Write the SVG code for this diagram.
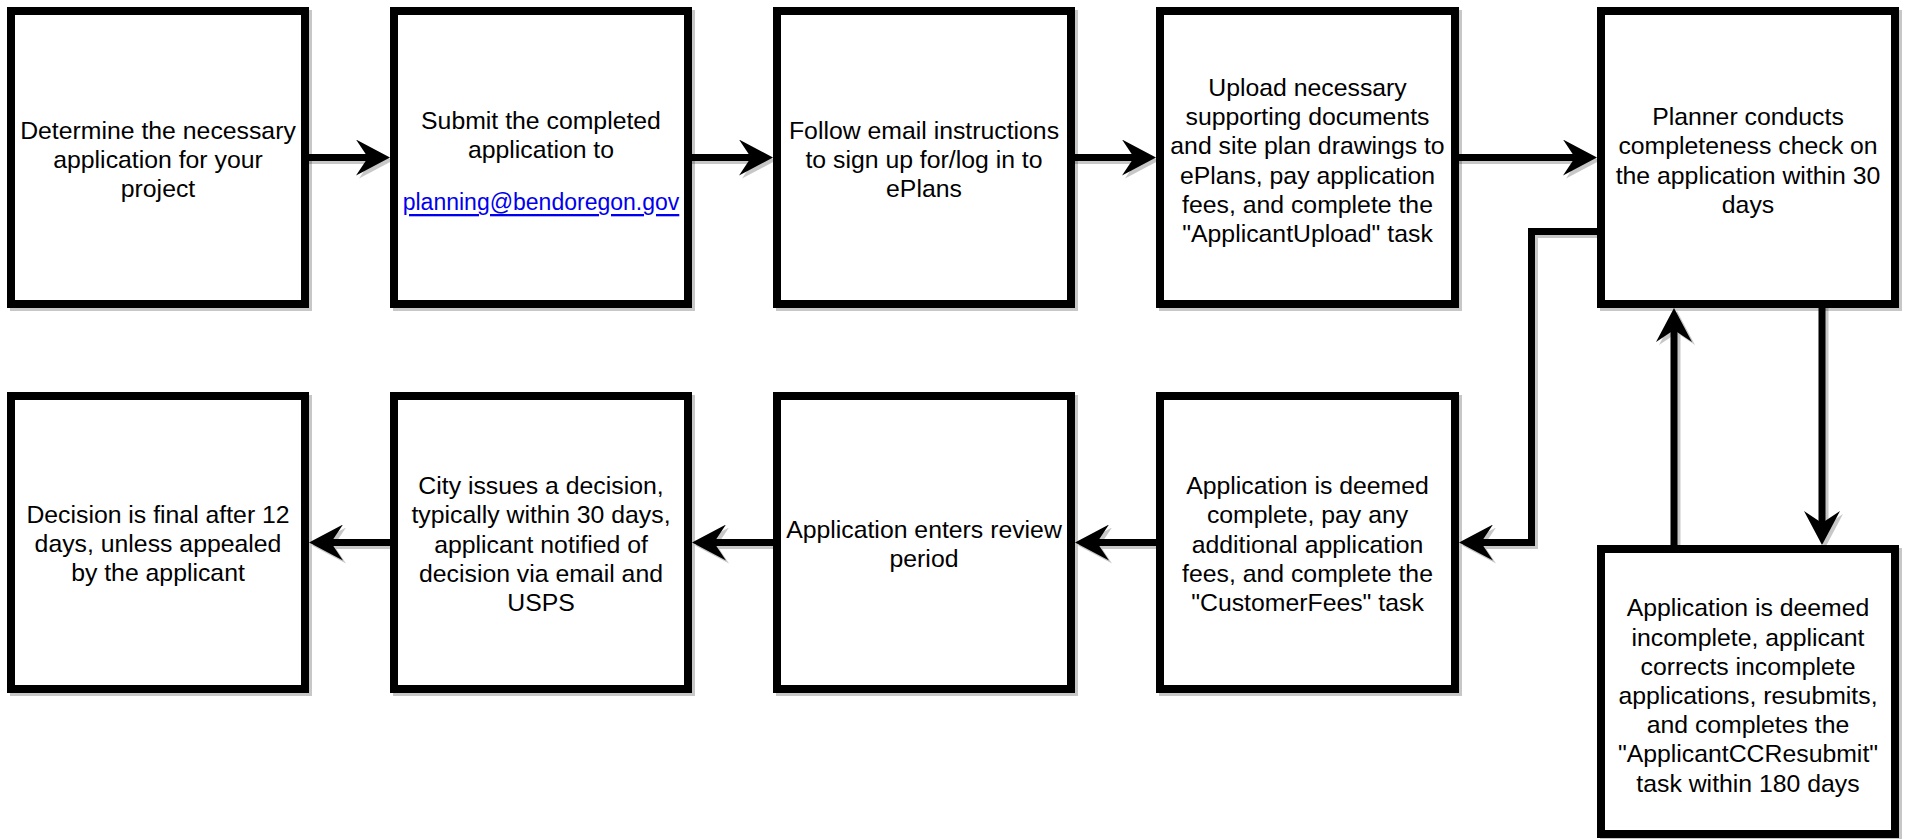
<svg xmlns="http://www.w3.org/2000/svg" width="1907" height="839" viewBox="0 0 1907 839">
<style>
.box{fill:#fff;stroke:#000;stroke-width:8;filter:url(#sh)}
.t{font-family:"Liberation Sans",Arial,Helvetica,sans-serif;font-size:24.8px;fill:#000;text-anchor:middle;dominant-baseline:central}
.link{fill:#0000EE;font-size:23px;text-decoration:underline}
.c{fill:none;stroke:#000;stroke-width:7;marker-end:url(#arr);filter:url(#sh)}
</style>
<defs>
<filter id="sh" filterUnits="userSpaceOnUse" x="0" y="0" width="1907" height="839">
<feDropShadow dx="3" dy="3" stdDeviation="0" flood-color="#000" flood-opacity="0.22"/>
</filter>
<marker id="arr" viewBox="0 0 34 36" refX="14" refY="18" markerWidth="34" markerHeight="36" markerUnits="userSpaceOnUse" orient="auto">
<path d="M0,0 L34,18 L0,36 L12,18 Z" fill="#000"/>
</marker>
</defs>
<rect width="1907" height="839" fill="#fff"/>
<g id="connectors">
<path class="c" d="M305,157.5 H370"/>
<path class="c" d="M688,157.5 H753"/>
<path class="c" d="M1071,157.5 H1136"/>
<path class="c" d="M1455,157.5 H1577"/>
<path class="c" d="M1601,231.5 H1531.5 V542.5 H1479"/>
<path class="c" d="M1822,304 V525"/>
<path class="c" d="M1674,549 V328"/>
<path class="c" d="M1160,542.5 H1095"/>
<path class="c" d="M777,542.5 H712"/>
<path class="c" d="M394,542.5 H329"/>
</g>
<g id="n1">
<rect class="box" x="11" y="11" width="294" height="293"/>
<text class="t" x="158" y="130.3">Determine the necessary</text>
<text class="t" x="158" y="159.5">application for your</text>
<text class="t" x="158" y="188.7">project</text>
</g>
<g id="n2">
<rect class="box" x="394" y="11" width="294" height="293"/>
<text class="t" x="541" y="120.5">Submit the completed</text>
<text class="t" x="541" y="149.5">application to</text>
<text class="t link" x="541" y="202">planning@bendoregon.gov</text>
</g>
<g id="n3">
<rect class="box" x="777" y="11" width="294" height="293"/>
<text class="t" x="924" y="130.3">Follow email instructions</text>
<text class="t" x="924" y="159.5">to sign up for/log in to</text>
<text class="t" x="924" y="188.7">ePlans</text>
</g>
<g id="n4">
<rect class="box" x="1160" y="11" width="295" height="293"/>
<text class="t" x="1307.5" y="87.5">Upload necessary</text>
<text class="t" x="1307.5" y="116.7">supporting documents</text>
<text class="t" x="1307.5" y="145.9">and site plan drawings to</text>
<text class="t" x="1307.5" y="175.1">ePlans, pay application</text>
<text class="t" x="1307.5" y="204.3">fees, and complete the</text>
<text class="t" x="1307.5" y="233.5">"ApplicantUpload" task</text>
</g>
<g id="n5">
<rect class="box" x="1601" y="11" width="294" height="293"/>
<text class="t" x="1748" y="116.7">Planner conducts</text>
<text class="t" x="1748" y="145.9">completeness check on</text>
<text class="t" x="1748" y="175.1">the application within 30</text>
<text class="t" x="1748" y="204.3">days</text>
</g>
<g id="n6">
<rect class="box" x="1601" y="549" width="294" height="285"/>
<text class="t" x="1748" y="607.9">Application is deemed</text>
<text class="t" x="1748" y="637.1">incomplete, applicant</text>
<text class="t" x="1748" y="666.3">corrects incomplete</text>
<text class="t" x="1748" y="695.5">applications, resubmits,</text>
<text class="t" x="1748" y="724.7">and completes the</text>
<text class="t" x="1748" y="753.9">"ApplicantCCResubmit"</text>
<text class="t" x="1748" y="783.1">task within 180 days</text>
</g>
<g id="n7">
<rect class="box" x="1160" y="396" width="295" height="293"/>
<text class="t" x="1307.5" y="485.6">Application is deemed</text>
<text class="t" x="1307.5" y="514.8">complete, pay any</text>
<text class="t" x="1307.5" y="544">additional application</text>
<text class="t" x="1307.5" y="573.2">fees, and complete the</text>
<text class="t" x="1307.5" y="602.4">"CustomerFees" task</text>
</g>
<g id="n8">
<rect class="box" x="777" y="396" width="294" height="293"/>
<text class="t" x="924" y="529.4">Application enters review</text>
<text class="t" x="924" y="558.6">period</text>
</g>
<g id="n9">
<rect class="box" x="394" y="396" width="294" height="293"/>
<text class="t" x="541" y="485.6">City issues a decision,</text>
<text class="t" x="541" y="514.8">typically within 30 days,</text>
<text class="t" x="541" y="544">applicant notified of</text>
<text class="t" x="541" y="573.2">decision via email and</text>
<text class="t" x="541" y="602.4">USPS</text>
</g>
<g id="n10">
<rect class="box" x="11" y="396" width="294" height="293"/>
<text class="t" x="158" y="514.3">Decision is final after 12</text>
<text class="t" x="158" y="543.5">days, unless appealed</text>
<text class="t" x="158" y="572.7">by the applicant</text>
</g>
</svg>
